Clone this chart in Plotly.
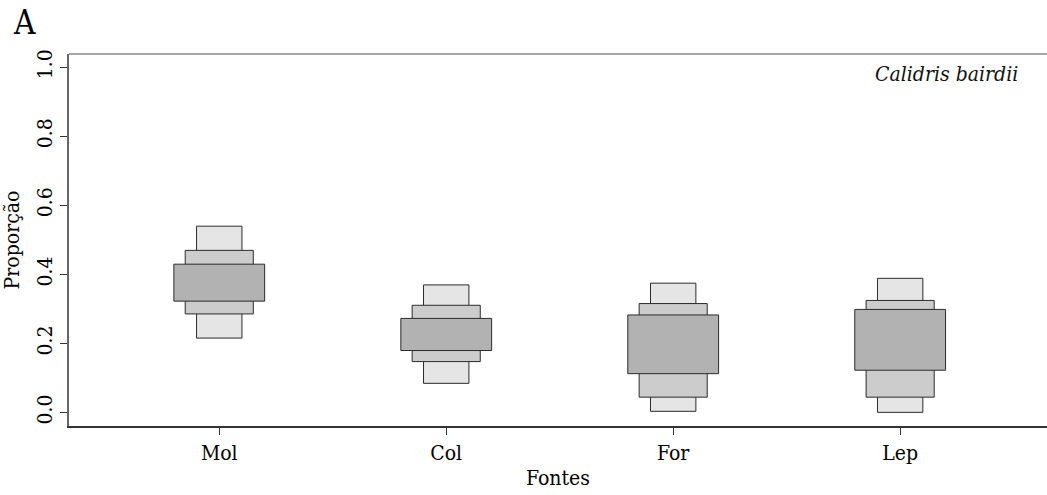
import plotly.graph_objects as go

# Fontes (sources) and posterior credible intervals of their proportions
sources = ["Mol", "Col", "For", "Lep"]

# 95% interval
lo95 = [0.216, 0.085, 0.004, 0.001]
hi95 = [0.540, 0.370, 0.375, 0.389]
# 75% interval
lo75 = [0.286, 0.148, 0.045, 0.045]
hi75 = [0.470, 0.311, 0.316, 0.325]
# 50% interval
lo50 = [0.323, 0.180, 0.113, 0.123]
hi50 = [0.430, 0.273, 0.283, 0.299]

y_ticks = [0.0, 0.2, 0.4, 0.6, 0.8, 1.0]
y_tick_text = ["0.0", "0.2", "0.4", "0.6", "0.8", "1.0"]

FONT = "DejaVu Serif Condensed, DejaVu Serif"

fig = go.Figure()

layers = [
    (lo95, hi95, 0.2, "#e5e5e5"),
    (lo75, hi75, 0.3, "#cccccc"),
    (lo50, hi50, 0.4, "#b2b2b2"),
]
for lo, hi, w, col in layers:
    fig.add_trace(go.Bar(
        x=sources,
        y=[h - l for l, h in zip(lo, hi)],
        base=lo,
        width=w,
        marker=dict(color=col, line=dict(color="#2b2b2b", width=1)),
        showlegend=False,
        hoverinfo="skip",
    ))

fig.update_layout(
    width=1047, height=495,
    margin=dict(l=69, r=0, t=54, b=69),
    paper_bgcolor="white", plot_bgcolor="white",
    barmode="overlay",
    font=dict(family=FONT, size=21, color="#000000"),
    xaxis=dict(
        range=[-0.662, 3.647],
        showline=True, linecolor="#333333", linewidth=1.5,
        ticks="outside", ticklen=7, tickcolor="#333333",
        showgrid=False, zeroline=False,
        title=dict(text="Fontes", standoff=6, font=dict(size=21)),
        tickfont=dict(size=21),
    ),
    yaxis=dict(
        range=[-0.0385, 1.0385],
        tickvals=y_ticks, ticktext=y_tick_text,
        tickangle=-90,
        showline=True, linecolor="#666666", linewidth=1.5,
        ticks="outside", ticklen=7, tickcolor="#333333",
        showgrid=False, zeroline=False,
        title=dict(text="Proporção", standoff=8, font=dict(size=21)),
        tickfont=dict(size=21),
    ),
    shapes=[dict(type="line", xref="paper", yref="paper", x0=0, x1=1, y0=1, y1=1,
                 line=dict(color="#888888", width=1.5))],
    annotations=[
        dict(text="A", xref="paper", yref="paper", x=-0.059, y=1.0, xanchor="left", yanchor="bottom",
             yshift=10, showarrow=False, font=dict(family=FONT, size=33, color="#000000")),
        dict(text="<i>Calidris bairdii</i>", xref="paper", yref="paper", x=0.972, y=0.985,
             xanchor="right", yanchor="top", showarrow=False,
             font=dict(family=FONT, size=21, color="#111111")),
    ],
)

fig.write_html("out.html")
